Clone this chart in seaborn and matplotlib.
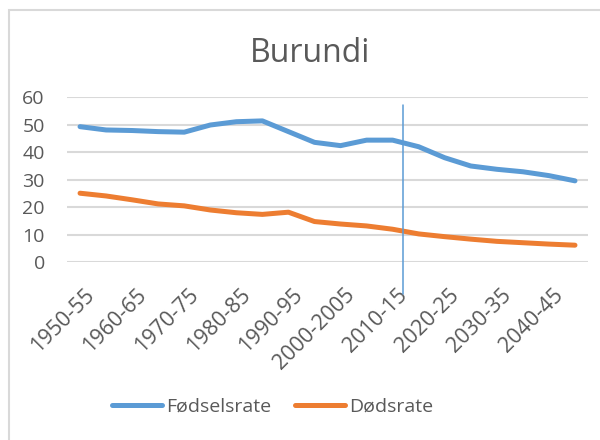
import numpy as np
import pandas as pd
import matplotlib
matplotlib.use('Agg')
import matplotlib.pyplot as plt
import matplotlib.transforms as mtransforms
import seaborn as sns

# periods 1950-55 .. 2045-50
periods = ['1950-55', '1955-60', '1960-65', '1965-70', '1970-75', '1975-80',
           '1980-85', '1985-90', '1990-95', '1995-2000', '2000-2005', '2005-10',
           '2010-15', '2015-20', '2020-25', '2025-30', '2030-35', '2035-40',
           '2040-45', '2045-50']
fodselsrate = [49.3, 48.1, 47.9, 47.5, 47.3, 49.9, 51.1, 51.4, 47.5, 43.6,
               42.4, 44.4, 44.4, 42.0, 38.0, 35.0, 33.8, 32.9, 31.5, 29.6]
dodsrate = [25.1, 24.1, 22.7, 21.2, 20.5, 19.0, 18.0, 17.4, 18.2, 14.8,
            13.9, 13.2, 12.0, 10.3, 9.3, 8.4, 7.6, 7.1, 6.6, 6.2]
marker_pos = 12.4  # vertical marker, around 2015

df = pd.DataFrame({'period': periods, 'Fødselsrate': fodselsrate, 'Dødsrate': dodsrate})
long = df.melt(id_vars='period', var_name='serie', value_name='rate')
long['x'] = long['period'].map({p: i for i, p in enumerate(periods)})

sns.set_style('white')
plt.rcParams['font.family'] = ['Open Sans', 'DejaVu Sans']
grey = '#595959'

fig = plt.figure(figsize=(6, 4.4), dpi=100)
ax = fig.add_axes([0.1117, 0.404, 0.8683, 0.375])

sns.lineplot(data=long, x='x', y='rate', hue='serie',
             palette={'Fødselsrate': '#5B9BD5', 'Dødsrate': '#ED7D31'},
             linewidth=3.6, ax=ax, legend=True)
for ln in ax.lines:
    ln.set_solid_capstyle('round')
    ln.set_solid_joinstyle('round')
ax.axvline(marker_pos, ymin=-0.19, ymax=0.95, color='#5B9BD5', lw=1.1, clip_on=False)

ax.set_xlim(-0.5, len(periods) - 0.5)
ax.set_ylim(0, 60)
ax.set_yticks(range(0, 61, 10))
ax.grid(axis='y', color='#D9D9D9', lw=1.5)
ax.set_axisbelow(True)
for s in ax.spines.values():
    s.set_visible(False)
ax.tick_params(axis='y', length=0, pad=16, labelsize=14, labelcolor=grey)
ax.set_xticks(range(0, len(periods), 2))
ax.set_xticklabels(periods[::2], rotation=45, ha='right', va='top', rotation_mode='anchor')
ax.tick_params(axis='x', length=0, pad=16, labelsize=15.5, labelcolor=grey)
shift = mtransforms.ScaledTranslation(4 / 100, 0, fig.dpi_scale_trans)
for lab in ax.get_xticklabels():
    lab.set_transform(lab.get_transform() + shift)
ax.set_xlabel('')
ax.set_ylabel('')

fig.text(0.516, 1 - 53 / 440, 'Burundi', ha='center', va='center', fontsize=23, color=grey)

h, l = ax.get_legend_handles_labels()
leg = ax.legend(h, l, loc='center', bbox_to_anchor=(272.5 / 600, 1 - 407 / 440),
                bbox_transform=fig.transFigure, ncol=2, frameon=False, fontsize=14,
                labelcolor=grey, handlelength=2.6, handletextpad=0.2, columnspacing=1.2)
for lh in leg.get_lines():
    lh.set_solid_capstyle('round')

# chart frame (cropped at right/bottom)
fig.add_artist(plt.Rectangle((9 / 600, -0.1), 1.2, 1 - 10 / 440 + 0.1,
                             transform=fig.transFigure, fill=False,
                             edgecolor='#D9D9D9', lw=1.5))

fig.savefig('out.png', dpi=100)
